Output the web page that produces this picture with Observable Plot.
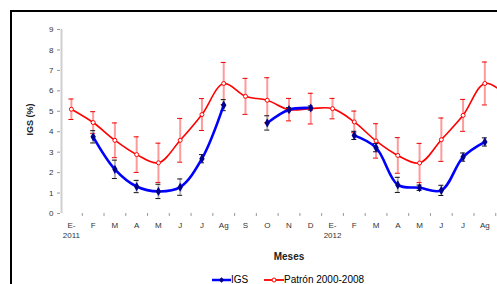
<!DOCTYPE html>
<html><head><meta charset="utf-8">
<script src="https://cdn.jsdelivr.net/npm/d3@7"></script>
<script src="https://cdn.jsdelivr.net/npm/@observablehq/plot@0.6"></script>
<style>
html,body{margin:0;padding:0;width:497px;height:284px;overflow:hidden;background:#fff;font-family:"Liberation Sans",Arial,sans-serif;}
#frame{position:absolute;left:10px;top:10px;width:640px;height:400px;border:2px solid #000;box-sizing:border-box;}
#chart{position:absolute;left:0;top:0;width:517px;}
#chart svg{max-width:none !important;width:517px !important;height:265px !important;}
.leg{position:absolute;top:273px;height:14px;line-height:14px;font-size:10px;color:#000;display:flex;align-items:center;white-space:nowrap;}
.leg svg{display:block;}
</style></head><body>
<div id="frame"></div>
<div id="chart"></div>
<div class="leg" style="left:212px"><svg width="19" height="14"><line x1="0" x2="19" y1="7" y2="7" stroke="#0000ff" stroke-width="2.5"/><path d="M9.5,4.3 L12.2,7 L9.5,9.7 L6.8,7Z" fill="#00008b"/></svg><span>IGS</span></div>
<div class="leg" style="left:264px"><svg width="20" height="14"><line x1="0" x2="20" y1="7" y2="7" stroke="#ff0000" stroke-width="1.8"/><circle cx="10" cy="7" r="2" fill="#fff" stroke="#ff0000" stroke-width="1"/></svg><span>Patrón 2000-2008</span></div>
<script>
// 21 categories: Jan 2011 .. Sep 2012 (the last one lies just past the visible edge)
const monthLabels = ["E-\n2011","F","M","A","M","J","J","Ag","S","O","N","D","E-\n2012","F","M","A","M","J","J","Ag","S"];
const patron    = [5.10,4.45,3.58,2.88,2.48,3.58,4.84,6.36,5.73,5.54,5.08,5.13,5.13,4.48,3.55,2.84,2.47,3.61,4.80,6.36,5.80];
const patronErr = [0.50,0.53,0.85,0.87,0.96,1.07,0.78,1.03,0.88,1.10,0.55,0.75,0.50,0.53,0.84,0.87,0.96,1.06,0.78,1.05,0.88];
const igs       = [null,3.75,2.16,1.32,1.08,1.29,2.68,5.30,null,4.43,5.08,5.16,null,3.82,3.22,1.40,1.26,1.13,2.76,3.50,null];
const igsErr    = [null,0.30,0.45,0.30,0.35,0.40,0.20,0.27,null,0.35,0.10,0.10,null,0.20,0.20,0.37,0.13,0.25,0.20,0.20,null];
const yTicks = [0,1,2,3,4,5,6,7,8,9];

const idx = monthLabels.map((_, i) => i);
const visibleTicks = idx.slice(0, 20);
const red = idx.map(i => ({i, v: patron[i], e: patronErr[i]}));
const blue = idx.map(i => ({i, v: igs[i], e: igsErr[i]}));
const blueDef = blue.filter(d => d.v != null);

const W = 517, ML = 60;
const bw = (W - ML) / idx.length;
const capInset = (bw - 5) / 2;

const chart = Plot.plot({
  width: W, height: 265,
  marginLeft: ML, marginRight: 0, marginTop: 29, marginBottom: 52,
  x: {type: "band", domain: idx, padding: 0, round: false},
  y: {domain: [0, 9]},
  style: {fontFamily: "'Liberation Sans', Arial, sans-serif", fontSize: "8px", background: "transparent", overflow: "visible"},
  marks: [
    Plot.ruleX(idx.slice(1), {x: d => d, dx: -bw / 2, y1: 0, y2: -0.15, stroke: "#999", strokeWidth: 1}),
    Plot.ruleX([0], {x: d => d, dx: -bw / 2 + 1, y1: 0, y2: 9, stroke: "#cfcfcf", strokeWidth: 2}),
    Plot.axisY({ticks: yTicks, tickSize: 3, tickPadding: 4, stroke: "#999", fill: "#333", fontSize: 8, label: null}),
    Plot.axisX({ticks: visibleTicks, tickSize: 0, tickPadding: 7, tickFormat: i => monthLabels[i], fill: "#333", fontSize: 8, lineHeight: 1.25, label: null}),
    Plot.ruleX(red, {x: "i", y1: d => d.v - d.e, y2: d => d.v + d.e, stroke: "#ff9a9a", strokeWidth: 2}),
    Plot.tickY(red, {x: "i", y: d => d.v + d.e, insetLeft: capInset, insetRight: capInset, stroke: "#ee0000", strokeWidth: 1}),
    Plot.tickY(red, {x: "i", y: d => d.v - d.e, insetLeft: capInset, insetRight: capInset, stroke: "#ee0000", strokeWidth: 1}),
    Plot.ruleX(blueDef, {x: "i", y1: d => d.v - d.e, y2: d => d.v + d.e, stroke: "#b5b5b5", strokeWidth: 2}),
    Plot.tickY(blueDef, {x: "i", y: d => d.v + d.e, insetLeft: capInset, insetRight: capInset, stroke: "#111", strokeWidth: 1}),
    Plot.tickY(blueDef, {x: "i", y: d => d.v - d.e, insetLeft: capInset, insetRight: capInset, stroke: "#111", strokeWidth: 1}),
    Plot.line(red, {x: "i", y: "v", curve: "catmull-rom", stroke: "#ff0000", strokeWidth: 1.6}),
    Plot.line(blue, {x: "i", y: "v", curve: "catmull-rom", stroke: "#0000ff", strokeWidth: 2.6}),
    Plot.dot(red, {x: "i", y: "v", r: 2, fill: "#fff", stroke: "#ff0000", strokeWidth: 1}),
    Plot.dot(blueDef, {x: "i", y: "v", symbol: "diamond", r: 2.8, fill: "#00008b"}),
    Plot.text(["IGS (%)"], {text: d => d, frameAnchor: "left", rotate: -90, dx: -30, dy: 14, fontSize: 9, fontWeight: "bold", fill: "#222"}),
    Plot.text(["Meses"], {text: d => d, frameAnchor: "bottom", dy: 46, fontSize: 10, fontWeight: "bold", fill: "#222"})
  ]
});
document.getElementById("chart").appendChild(chart);
</script>
</body></html>
